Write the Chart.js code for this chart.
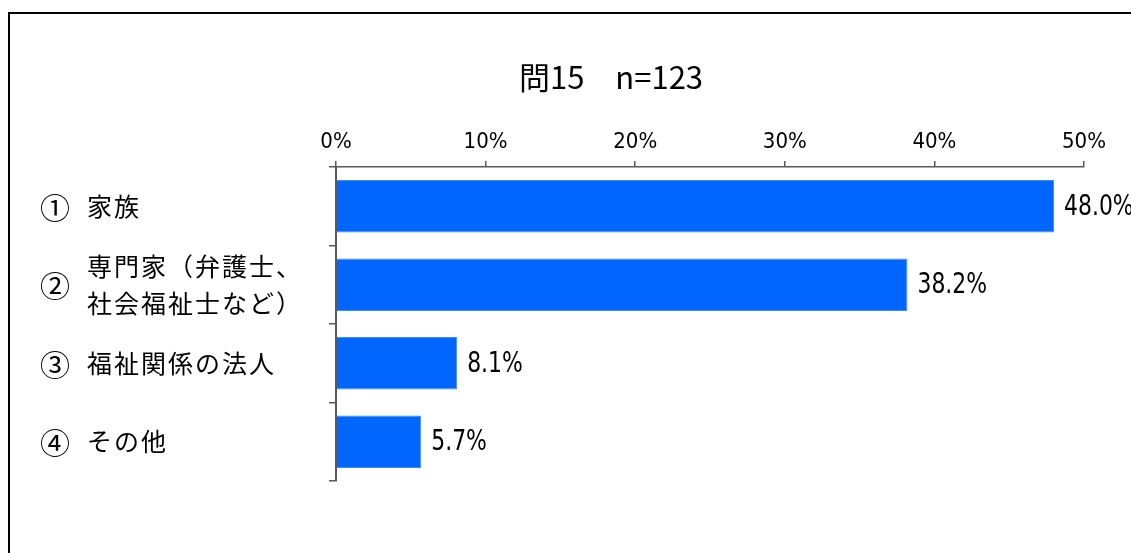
<!DOCTYPE html>
<html lang="ja">
<head>
<meta charset="utf-8">
<script src="https://cdn.jsdelivr.net/npm/chart.js@4"></script>
<style>
html, body { margin: 0; padding: 0; background: #fff; overflow: hidden; }
#wrap { position: relative; width: 1131px; height: 553px; }
#chart { position: absolute; left: 0; top: 0; }
/* moldura preta: só as bordas esquerda e superior aparecem */
#frame { position: absolute; left: 8px; top: 12px; width: 1400px; height: 900px; border: 2px solid #000; pointer-events: none; }
</style>
</head>
<body>
<div id="wrap">
  <canvas id="chart" width="1131" height="553"></canvas>
  <div id="frame"></div>
</div>
<script>
// Dados do gráfico
const titulo = '問15　n=123';
const numeros = ['①', '②', '③', '④'];
const categorias = [['家族'], ['専門家（弁護士、', '社会福祉士など）'], ['福祉関係の法人'], ['その他']];
const valores = [48.0, 38.2, 8.1, 5.7];
const ticksX = [0, 10, 20, 30, 40, 50];

const corEixo = '#595959';
const fonteNum = '"Liberation Sans Narrow", "DejaVu Sans Condensed", sans-serif';
const fonteJp = '"Noto Sans CJK JP", sans-serif';

// Plugin que desenha título, nomes das categorias e rótulos dos valores
const rotulos = {
    id: 'rotulos',
    afterDatasetsDraw(chart) {
        const ctx = chart.ctx;
        const escalaY = chart.scales.y;
        const meta = chart.getDatasetMeta(0);
        ctx.save();
        ctx.fillStyle = '#000';
        ctx.textBaseline = 'middle';
        ctx.textAlign = 'left';

        // valores ao lado das barras (fonte comprimida na horizontal)
        ctx.font = '29px ' + fonteNum;
        meta.data.forEach((barra, i) => {
            ctx.save();
            ctx.translate(barra.x + 10, barra.y + 1);
            ctx.scale(0.84, 1);
            ctx.fillText(valores[i].toFixed(1) + '%', 0, 0);
            ctx.restore();
        });

        // nomes das categorias (número circulado + texto)
        numeros.forEach((n, i) => {
            const cy = escalaY.getPixelForValue(i);
            ctx.letterSpacing = '0px';
            ctx.font = '30px ' + fonteJp;
            ctx.fillText(n, 40, cy + 1);
            ctx.font = '25px ' + fonteJp;
            ctx.letterSpacing = '2px';
            const linhas = categorias[i];
            linhas.forEach((t, k) => {
                ctx.fillText(t, 87, cy + (k - (linhas.length - 1) / 2) * 37);
            });
        });

        // título
        ctx.letterSpacing = '0px';
        ctx.textAlign = 'center';
        ctx.font = '31px ' + fonteJp;
        ctx.fillText(titulo, 611, 77);
        ctx.restore();
    }
};

const ctx = document.getElementById('chart').getContext('2d');
new Chart(ctx, {
    type: 'bar',
    data: {
        labels: categorias.map(c => c.join('')),
        datasets: [{
            data: valores,
            backgroundColor: '#0066ff',
            borderColor: '#3d8cff',
            borderWidth: 1,
            borderSkipped: 'start',
            categoryPercentage: 1,
            barPercentage: 0.67
        }]
    },
    options: {
        indexAxis: 'y',
        responsive: false,
        animation: false,
        layout: { padding: { left: 0, top: 0, right: 47, bottom: 72 } },
        plugins: {
            legend: { display: false },
            title: { display: false },
            tooltip: { enabled: false }
        },
        scales: {
            x: {
                type: 'linear',
                position: 'top',
                min: 0,
                max: 50,
                afterBuildTicks: s => { s.ticks = ticksX.map(v => ({ value: v })); },
                afterFit: s => { s.height = 167; },
                ticks: {
                    callback: v => v + '%',
                    color: '#000',
                    padding: 6,
                    font: { family: fonteNum, size: 22 }
                },
                grid: { drawOnChartArea: false, tickLength: 6, color: corEixo, lineWidth: 1.5 },
                border: { color: corEixo, width: 1.5 }
            },
            y: {
                afterFit: s => { s.width = 336; },
                ticks: { display: false },
                grid: { drawOnChartArea: false, offset: true, tickLength: 7, color: corEixo, lineWidth: 1.5 },
                border: { color: corEixo, width: 2 }
            }
        }
    },
    plugins: [rotulos]
});
</script>
</body>
</html>
